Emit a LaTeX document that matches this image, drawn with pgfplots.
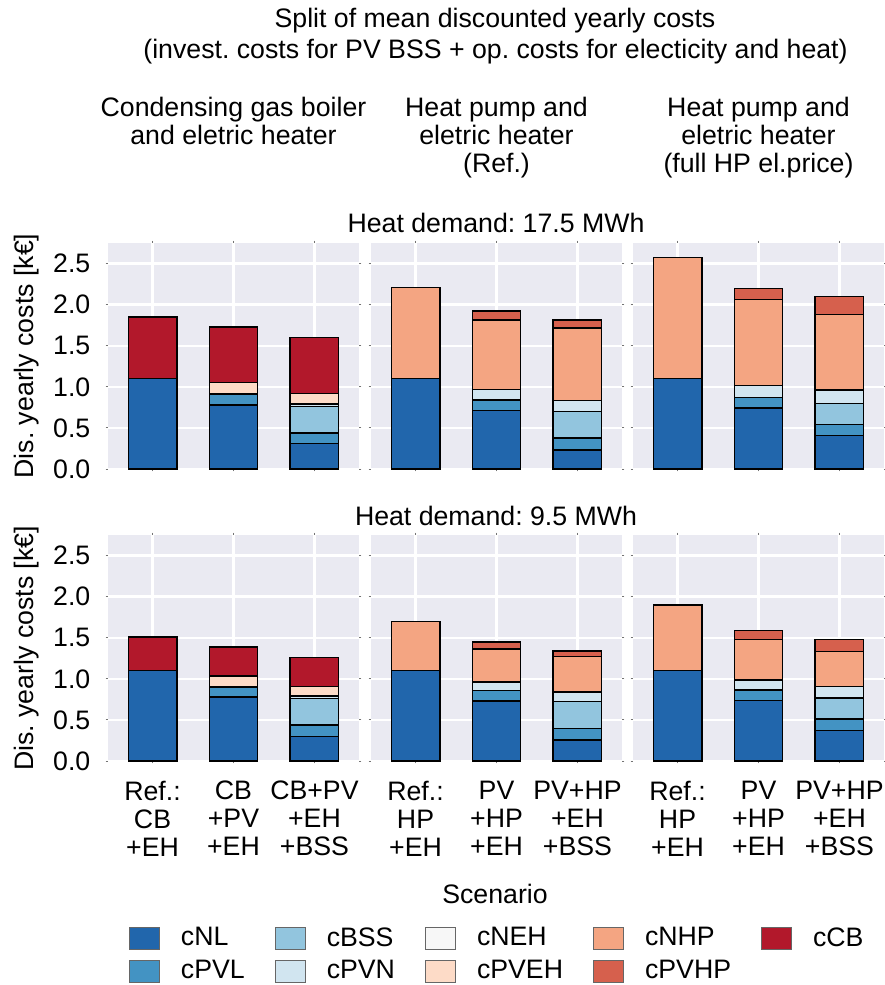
\documentclass[border=0pt]{standalone}
\usepackage{fontspec}
\setmainfont{Liberation Sans}
\usepackage{pgfplots}
\pgfplotsset{compat=1.18}
\usepackage{pgfplotstable}
\frenchspacing

% RdBu palette for the cost components
\definecolor{bgc}{HTML}{EAEAF2}
\definecolor{cNL}{HTML}{2166AC}
\definecolor{cPVL}{HTML}{4393C3}
\definecolor{cBSS}{HTML}{92C5DE}
\definecolor{cPVN}{HTML}{D1E5F0}
\definecolor{cNEH}{HTML}{F7F7F7}
\definecolor{cPVEH}{HTML}{FDDBC7}
\definecolor{cNHP}{HTML}{F4A582}
\definecolor{cPVHP}{HTML}{D6604D}
\definecolor{cCB}{HTML}{B2182B}

\newcommand{\fs}{\fontsize{13.35}{14}\selectfont}

% ---- heat demand 17.5 MWh ----
\pgfplotstableread{
x cNL cPVL cBSS cPVN cNEH cPVEH cNHP cPVHP cCB
0 1.10 0 0 0 0 0 0 0 0.75
1 0.78 0.13 0 0.01 0 0.13 0 0 0.68
2 0.31 0.13 0.32 0.03 0 0.13 0 0 0.68
}\tAcb
\pgfplotstableread{
x cNL cPVL cBSS cPVN cNEH cPVEH cNHP cPVHP cCB
0 1.10 0 0 0 0 0 1.11 0 0
1 0.71 0.13 0 0.125 0 0 0.85 0.11 0
2 0.23 0.145 0.327 0.133 0 0 0.883 0.097 0
}\tAhp
\pgfplotstableread{
x cNL cPVL cBSS cPVN cNEH cPVEH cNHP cPVHP cCB
0 1.10 0 0 0 0 0 1.47 0 0
1 0.74 0.127 0 0.149 0 0 1.044 0.14 0
2 0.407 0.133 0.254 0.166 0 0 0.919 0.218 0
}\tAfull
% ---- heat demand 9.5 MWh ----
\pgfplotstableread{
x cNL cPVL cBSS cPVN cNEH cPVEH cNHP cPVHP cCB
0 1.10 0 0 0 0 0 0 0 0.41
1 0.777 0.122 0 0.01 0 0.127 0 0 0.351
2 0.30 0.14 0.321 0.029 0 0.117 0 0 0.35
}\tBcb
\pgfplotstableread{
x cNL cPVL cBSS cPVN cNEH cPVEH cNHP cPVHP cCB
0 1.10 0 0 0 0 0 0.594 0 0
1 0.729 0.129 0 0.102 0 0 0.402 0.085 0
2 0.257 0.142 0.322 0.117 0 0 0.431 0.069 0
}\tBhp
\pgfplotstableread{
x cNL cPVL cBSS cPVN cNEH cPVEH cNHP cPVHP cCB
0 1.10 0 0 0 0 0 0.797 0 0
1 0.737 0.125 0 0.126 0 0 0.492 0.105 0
2 0.374 0.138 0.253 0.142 0 0 0.423 0.15 0
}\tBfull

\newcommand{\stackbars}[1]{%
  \addplot[fill=cNL]   table[x=x,y=cNL]{#1};
  \addplot[fill=cPVL]  table[x=x,y=cPVL]{#1};
  \addplot[fill=cBSS]  table[x=x,y=cBSS]{#1};
  \addplot[fill=cPVN]  table[x=x,y=cPVN]{#1};
  \addplot[fill=cNEH]  table[x=x,y=cNEH]{#1};
  \addplot[fill=cPVEH] table[x=x,y=cPVEH]{#1};
  \addplot[fill=cNHP]  table[x=x,y=cNHP]{#1};
  \addplot[fill=cPVHP] table[x=x,y=cPVHP]{#1};
  \addplot[fill=cCB]   table[x=x,y=cCB]{#1};
}

\pgfplotsset{
  panel/.style={
    scale only axis, width=125.5pt, height=113pt,
    anchor=north west,
    xmin=-0.55, xmax=2.55, ymin=0, ymax=2.75,
    ybar stacked, bar width=0.6,
    axis background/.style={fill=bgc},
    axis line style={draw=none},
    grid=major, major grid style={white, line width=1.2pt},
    xtick={0,1,2}, ytick={0,0.5,1,1.5,2,2.5},
    tick align=outside, major tick length=1.2pt,
    tick style={line width=0.5pt, black!55},
    xticklabels={}, yticklabels={},
    every axis plot/.append style={draw=black, line width=0.7pt},
    /pgf/number format/assume math mode=true,
    ticklabel style={font=\fs},
  },
  leftcol/.style={
    yticklabel={\pgfmathprintnumber[fixed,fixed zerofill,precision=1]{\tick}},
    yticklabel style={xshift=-3pt},
  },
  bottomrow/.style={
    xticklabel style={align=center, font=\fs, yshift=-4pt},
  },
}

\begin{document}
\begin{tikzpicture}
\useasboundingbox (0pt,0pt) rectangle (442pt,-492.5pt);
\fs
% titles
\node[anchor=base, font=\fs] at (247.5pt,-13.5pt) {Split of mean discounted yearly costs};
\node[anchor=base, font=\fs] at (247.75pt,-29pt) {(invest. costs for PV BSS + op. costs for electicity and heat)};
\node[anchor=base, font=\fs] at (116.75pt,-58pt) {Condensing gas boiler};
\node[anchor=base, font=\fs] at (116.75pt,-72pt) {and eletric heater};
\node[anchor=base, font=\fs] at (248.25pt,-58pt) {Heat pump and};
\node[anchor=base, font=\fs] at (248.25pt,-72pt) {eletric heater};
\node[anchor=base, font=\fs] at (248.25pt,-86pt) {(Ref.)};
\node[anchor=base, font=\fs] at (379.25pt,-58pt) {Heat pump and};
\node[anchor=base, font=\fs] at (379.25pt,-72pt) {eletric heater};
\node[anchor=base, font=\fs] at (379.25pt,-86pt) {(full HP el.price)};
\node[anchor=base, font=\fs] at (248pt,-116pt) {Heat demand: 17.5 MWh};
\node[anchor=base, font=\fs] at (248pt,-262.5pt) {Heat demand: 9.5 MWh};
\node[anchor=base, font=\fs] at (247.5pt,-451.5pt) {Scenario};
\node[rotate=90, font=\fs] at (13.5pt,-178pt) {Dis. yearly costs [k€]};
\node[rotate=90, font=\fs] at (13.5pt,-324.25pt) {Dis. yearly costs [k€]};

% top row
\begin{axis}[panel, leftcol, at={(54pt,-121.5pt)}]
\stackbars{\tAcb}
\end{axis}
\begin{axis}[panel, at={(185.5pt,-121.5pt)}]
\stackbars{\tAhp}
\end{axis}
\begin{axis}[panel, at={(316.5pt,-121.5pt)}]
\stackbars{\tAfull}
\end{axis}

% bottom row
\begin{axis}[panel, leftcol, bottomrow, at={(54pt,-267.5pt)},
  xticklabels={{Ref.:\\CB\\+EH},{CB\\+PV\\+EH},{CB+PV\\+EH\\+BSS}}]
\stackbars{\tBcb}
\end{axis}
\begin{axis}[panel, bottomrow, at={(185.5pt,-267.5pt)},
  xticklabels={{Ref.:\\HP\\+EH},{PV\\+HP\\+EH},{PV+HP\\+EH\\+BSS}}]
\stackbars{\tBhp}
\end{axis}
\begin{axis}[panel, bottomrow, at={(316.5pt,-267.5pt)},
  xticklabels={{Ref.:\\HP\\+EH},{PV\\+HP\\+EH},{PV+HP\\+EH\\+BSS}}]
\stackbars{\tBfull}
\end{axis}

% frame spanning the whole figure, carrying the legend
\begin{axis}[at={(0pt,0pt)}, anchor=north west, scale only axis,
  width=442pt, height=492.5pt, hide axis,
  xmin=0, xmax=1, ymin=0, ymax=1,
  legend columns=5,
  legend image code/.code={\draw[#1, draw=black!60, line width=0.5pt] (0pt,-5.5pt) rectangle (15pt,5.5pt);},
  legend style={draw=none, fill=none, inner sep=0pt, font=\fs,
    at={(0.1454,0.0599)}, anchor=north west,
    row sep=4pt,
    nodes={inner sep=0.5pt},
    /tikz/every even column/.append style={column sep=14.5pt},
    /tikz/every odd column/.append style={column sep=10pt}},
  legend cell align=left]
\addlegendimage{fill=cNL}\addlegendentry{cNL}
\addlegendimage{fill=cBSS}\addlegendentry{cBSS}
\addlegendimage{fill=cNEH}\addlegendentry{cNEH}
\addlegendimage{fill=cNHP}\addlegendentry{cNHP}
\addlegendimage{fill=cCB}\addlegendentry{cCB}
\addlegendimage{fill=cPVL}\addlegendentry{cPVL}
\addlegendimage{fill=cPVN}\addlegendentry{cPVN}
\addlegendimage{fill=cPVEH}\addlegendentry{cPVEH}
\addlegendimage{fill=cPVHP}\addlegendentry{cPVHP}
\end{axis}
\end{tikzpicture}
\end{document}
